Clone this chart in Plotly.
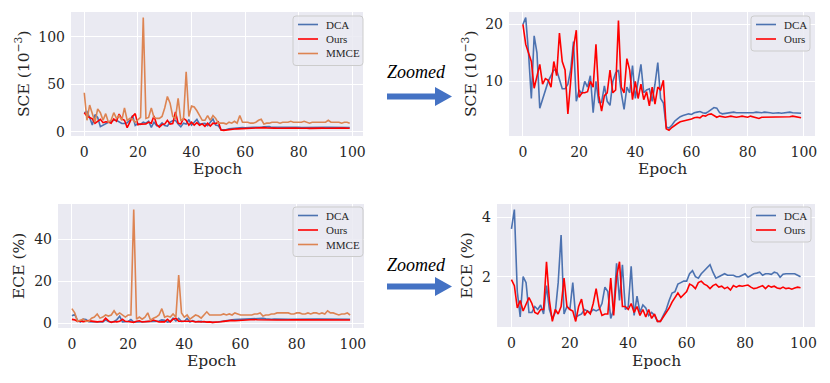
import plotly.graph_objects as go

# epochs on the x axis
epochs = list(range(100))

# SCE (10^-3) per epoch
sce_dca = [20.0, 21.2, 15.0, 7.0, 18.0, 15.0, 5.3, 7.0, 8.5, 10.0,
           11.0, 12.0, 12.0, 10.5, 8.7, 8.7, 9.5, 12.0, 17.0, 6.5,
           8.5, 7.8, 10.0, 9.0, 11.0, 4.5, 10.0, 6.3, 6.3, 9.2,
           6.5, 5.8, 10.0, 11.5, 12.0, 8.0, 5.1, 9.0, 8.0, 12.8,
           7.0, 10.0, 13.0, 8.0, 8.5, 8.7, 6.5, 9.5, 13.3, 7.0,
           6.2, 2.0, 1.8, 2.3, 3.0, 3.4, 3.8, 4.0, 4.1, 4.3,
           4.2, 4.5, 4.6, 4.7, 4.5, 4.4, 4.7, 5.1, 5.4, 5.3,
           4.5, 4.3, 4.4, 4.5, 4.5, 4.6, 4.5, 4.5, 4.4, 4.5,
           4.5, 4.4, 4.5, 4.6, 4.5, 4.5, 4.6, 4.6, 4.5, 4.4,
           4.5, 4.5, 4.4, 4.5, 4.5, 4.6, 4.5, 4.5, 4.5, 4.4]
sce_ours = [20.0, 16.5, 15.0, 13.5, 8.8, 11.0, 13.0, 9.5, 10.5, 10.2,
            9.0, 13.5, 11.0, 18.5, 13.5, 12.0, 4.3, 10.0, 16.0, 19.0,
            7.2, 8.0, 8.0, 8.2, 10.0, 9.0, 16.5, 7.5, 4.8, 7.5,
            8.0, 12.0, 8.0, 8.5, 20.7, 9.0, 8.0, 14.0, 12.0, 6.8,
            10.0, 7.0, 9.5, 6.8, 8.2, 5.7, 9.0, 6.0, 9.0, 8.5,
            10.2, 1.7, 1.4, 1.9, 2.3, 2.6, 2.9, 3.0, 3.2, 3.3,
            3.4, 3.6, 3.7, 3.6, 4.0, 3.9, 4.2, 4.3, 4.0, 3.7,
            3.9, 3.8, 3.7, 3.8, 3.9, 3.8, 3.7, 3.8, 3.9, 3.8,
            3.7, 3.9, 3.8, 3.6, 3.5, 3.7, 3.7, 3.8, 3.7, 3.8,
            3.7, 3.8, 3.7, 3.8, 3.7, 3.8, 3.9, 3.8, 3.7, 3.6]
sce_mmce = [41, 12, 28, 20, 10, 24, 20, 12, 19, 10,
            12, 20, 14, 17, 12, 25, 12, 14, 13, 10,
            13, 15, 120, 14, 15, 25, 15, 14, 14, 16,
            25, 37, 30, 16, 14, 35, 12, 13, 63, 16,
            27, 26, 22, 17, 12, 12, 17, 12, 17, 14,
            9, 9, 9, 8, 10, 9, 11, 9, 17, 10,
            10, 10, 9, 9, 10, 12, 13, 8, 9, 9,
            10, 10, 10, 9, 10, 10, 10, 11, 10, 10,
            10, 10, 11, 10, 9, 10, 10, 10, 10, 10,
            10, 12, 10, 10, 10, 10, 9, 10, 10, 9]

# ECE (%) per epoch
ece_dca = [3.6, 4.25, 1.5, 0.65, 2.0, 1.8, 0.8, 0.8, 1.0, 0.9,
           1.05, 0.75, 1.7, 0.9, 0.6, 0.8, 1.8, 3.4, 0.75, 1.0,
           0.9, 1.8, 0.65, 0.7, 0.75, 0.9, 0.85, 0.8, 0.9, 0.85,
           0.9, 1.1, 1.65, 1.5, 0.6, 0.9, 2.45, 1.2, 2.4, 0.9,
           1.0, 2.35, 0.7, 1.35, 0.8, 1.05, 0.95, 0.7, 0.8, 0.7,
           0.5, 0.5, 0.7, 0.9, 1.2, 1.45, 1.5, 1.75, 1.8, 1.85,
           1.85, 2.1, 2.2, 2.0, 1.95, 2.1, 2.2, 2.3, 2.4, 2.15,
           1.95, 2.0, 2.05, 2.1, 2.05, 2.05, 2.05, 2.0, 2.0, 2.05,
           2.1, 1.98, 2.05, 2.1, 2.12, 2.15, 2.05, 2.1, 2.1, 2.08,
           2.15, 2.12, 1.98, 2.08, 2.1, 2.1, 2.08, 2.1, 2.05, 2.0]
ece_ours = [1.9, 1.7, 0.95, 1.2, 0.85, 1.05, 1.3, 1.1, 0.8, 0.75,
            0.9, 0.9, 2.5, 1.2, 0.5, 0.9, 0.75, 1.0, 1.95, 1.0,
            0.9, 0.85, 0.5, 1.0, 1.25, 0.7, 0.85, 0.75, 1.1, 1.6,
            1.0, 0.7, 0.75, 0.75, 1.95, 0.7, 2.0, 2.5, 1.0, 1.0,
            0.9, 1.1, 0.8, 1.0, 0.7, 0.9, 0.65, 0.9, 0.6, 0.75,
            0.5, 0.5, 0.65, 0.8, 0.95, 1.15, 1.3, 1.45, 1.3, 1.4,
            1.5, 1.75, 1.7, 1.6, 1.8, 1.85, 1.75, 1.7, 1.6, 1.7,
            1.75, 1.65, 1.68, 1.6, 1.65, 1.55, 1.7, 1.65, 1.7, 1.68,
            1.7, 1.72, 1.65, 1.6, 1.62, 1.65, 1.7, 1.6, 1.7, 1.65,
            1.68, 1.62, 1.6, 1.65, 1.6, 1.62, 1.58, 1.62, 1.65, 1.63]
ece_mmce = [7, 5, 1, 1.5, 2, 1, 1, 2.5, 3, 4.5,
            2.5, 3, 4, 3.5, 4, 6, 4, 5, 4, 3,
            4, 4, 54, 2, 3, 2, 3, 5, 1.5, 2.5,
            3, 4, 7, 3, 3.5, 3, 4.5, 3, 23, 5,
            3, 4, 2, 3, 4, 3.5, 2.5, 4, 5.5, 4,
            4, 4, 4, 4, 4.5, 4, 4.5, 4, 5, 4.5,
            4, 4, 4, 4, 4, 4.5, 4.5, 5, 3.5, 4,
            4, 4.5, 4.5, 5, 5, 5, 5, 5, 4.5, 4.5,
            5, 5, 4.5, 4.5, 5, 4.5, 5, 5, 4.5, 5,
            4.5, 6, 5, 5, 4.5, 4, 4.5, 4.5, 5, 4]

x_ticks = [0, 20, 40, 60, 80, 100]

# the page body has an 8px margin, so the figure is 8px smaller and shifted
OFF = 8
W, H = 830 - OFF, 383 - OFF
BLUE = "#4C72B0"
RED = "#FF0000"
ORANGE = "#DD8452"
TXT = "#262626"
SERIF = "DejaVu Serif"
TIMES = "Liberation Serif"


def fx(p):
    return (p - OFF) / W


def fy(p):
    return 1 - (p - OFF) / H


def round_rect(x0, y0, x1, y1, r=3):
    # rounded legend frame, page pixels in, paper coords out
    pts = [("M", x0 + r, y0), ("L", x1 - r, y0), ("Q", x1, y0, x1, y0 + r), ("L", x1, y1 - r),
           ("Q", x1, y1, x1 - r, y1), ("L", x0 + r, y1), ("Q", x0, y1, x0, y1 - r),
           ("L", x0, y0 + r), ("Q", x0, y0, x0 + r, y0)]
    out = []
    for p in pts:
        coords = []
        for j in range(1, len(p), 2):
            coords.append("{:.5f},{:.5f}".format(fx(p[j]), fy(p[j + 1])))
        out.append(p[0] + " " + " ".join(coords))
    return " ".join(out) + " Z"


# plot boxes in page pixels: x0, x1, y0(top), y1(bottom)
panels = [
    dict(box=(71, 363, 12, 136), series=[("DCA", sce_dca, BLUE), ("Ours", sce_ours, RED), ("MMCE", sce_mmce, ORANGE)],
         ytitle="SCE (10<sup>−3</sup>)", yticks=[0, 50, 100], ytx=23, etx=169, leg=(293, 363, 16)),
    dict(box=(509, 815, 12, 136), series=[("DCA", sce_dca, BLUE), ("Ours", sce_ours, RED)],
         ytitle="SCE (10<sup>−3</sup>)", yticks=[10, 20], ytx=470, etx=169, leg=(751, 810, 16)),
    dict(box=(58, 364, 204, 328), series=[("DCA", ece_dca, BLUE), ("Ours", ece_ours, RED), ("MMCE", ece_mmce, ORANGE)],
         ytitle="ECE (%)", yticks=[0, 20, 40], ytx=19, etx=361, leg=(293, 363, 207)),
    dict(box=(497, 815, 204, 327), series=[("DCA", ece_dca, BLUE), ("Ours", ece_ours, RED)],
         ytitle="ECE (%)", yticks=[2, 4], ytx=466, etx=361, leg=(751, 811, 207)),
]

fig = go.Figure()
shapes = []
annotations = []
layout = {}

for i, p in enumerate(panels):
    n = "" if i == 0 else str(i + 1)
    x0, x1, y0, y1 = p["box"]
    vals = [v for _, s, _ in p["series"] for v in s]
    lo, hi = min(vals), max(vals)
    pad = 0.05 * (hi - lo)
    for name, s, c in p["series"]:
        fig.add_trace(go.Scatter(x=epochs, y=s, mode="lines", name=name,
                                 line=dict(color=c, width=1.6),
                                 xaxis="x" + n, yaxis="y" + n, showlegend=False))
    layout["xaxis" + n] = dict(domain=[fx(x0), fx(x1)], range=[-4.95, 103.95], anchor="y" + n,
                               tickvals=x_ticks, showgrid=True, gridcolor="white", gridwidth=1.2,
                               zeroline=False, showline=False, ticks="", automargin=False,
                               ticklabelstandoff=6,
                               tickfont=dict(family=SERIF, size=14, color=TXT))
    layout["yaxis" + n] = dict(domain=[fy(y1), fy(y0)], range=[lo - pad, hi + pad], anchor="x" + n,
                               tickvals=p["yticks"], showgrid=True, gridcolor="white", gridwidth=1.2,
                               zeroline=False, showline=False, ticks="", automargin=False,
                               ticklabelstandoff=5,
                               tickfont=dict(family=SERIF, size=14, color=TXT))
    # axis titles
    annotations.append(dict(x=fx((x0 + x1) / 2), y=fy(p["etx"]), xref="paper", yref="paper",
                            text="Epoch", showarrow=False, xanchor="center", yanchor="middle",
                            font=dict(family=SERIF, size=15.5, color=TXT)))
    annotations.append(dict(x=fx(p["ytx"]), y=fy((y0 + y1) / 2), xref="paper", yref="paper",
                            text=p["ytitle"], showarrow=False, textangle=-90,
                            xanchor="center", yanchor="middle",
                            font=dict(family=SERIF, size=15.5, color=TXT)))
    # legend box
    lx0, lx1, ly0 = p["leg"]
    rows = len(p["series"])
    ly1 = ly0 + 6 + 14.5 * rows
    shapes.append(dict(type="path", xref="paper", yref="paper", path=round_rect(lx0, ly0, lx1, ly1),
                       fillcolor="rgba(234,234,242,0.85)",
                       line=dict(color="#cccccc", width=1), layer="above"))
    for k, (name, s, c) in enumerate(p["series"]):
        ry = ly0 + 8.5 + 14.5 * k
        shapes.append(dict(type="line", xref="paper", yref="paper", x0=fx(lx0 + 5), x1=fx(lx0 + 25),
                           y0=fy(ry), y1=fy(ry), line=dict(color=c, width=1.6), layer="above"))
        annotations.append(dict(x=fx(lx0 + 31), y=fy(ry), xref="paper", yref="paper", text=name,
                                showarrow=False, xanchor="left", yanchor="middle",
                                font=dict(family=TIMES, size=11, color=TXT)))

# "Zoomed" arrows between columns
ARROW = "#4472C4"
for cy, ty in [(96.5, 72), (286.5, 265)]:
    shapes.append(dict(type="path", xref="paper", yref="paper", fillcolor=ARROW, line=dict(width=0),
                       path="M {a},{b} L {c},{b} L {c},{d} L {e},{f} L {c},{g} L {c},{h} L {a},{h} Z".format(
                           a=fx(387), b=fy(cy - 3), c=fx(435), d=fy(cy - 9.5), e=fx(452), f=fy(cy),
                           g=fy(cy + 9.5), h=fy(cy + 3))))
    annotations.append(dict(x=fx(416), y=fy(ty), xref="paper", yref="paper", text="<i>Zoomed</i>",
                            showarrow=False, xanchor="center", yanchor="middle",
                            font=dict(family=TIMES, size=18, color="black")))

fig.update_layout(**layout)
fig.update_layout(width=W, height=H, margin=dict(l=0, r=0, t=0, b=0),
                  paper_bgcolor="white", plot_bgcolor="#EAEAF2",
                  shapes=shapes, annotations=annotations, showlegend=False)

fig.write_html("out.html")
